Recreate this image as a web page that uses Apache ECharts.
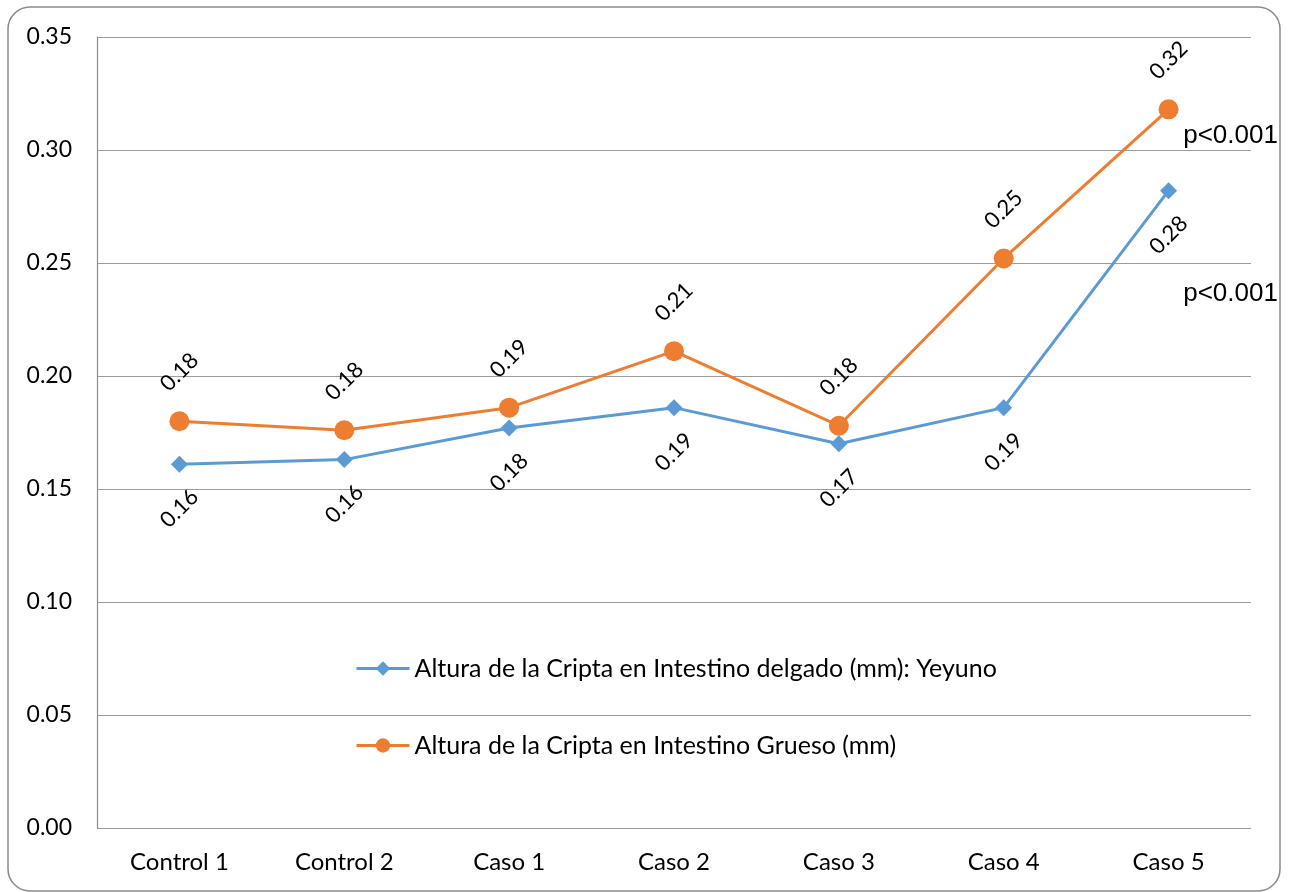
<!DOCTYPE html>
<html>
<head>
<meta charset="utf-8">
<script src="https://cdn.jsdelivr.net/npm/echarts@6/dist/echarts.min.js"></script>
<style>
  html, body { margin: 0; padding: 0; background: #ffffff; }
  #chart { width: 1290px; height: 892px; }
</style>
</head>
<body>
<div id="chart"></div>
<script>
// Crypt height per group
const categories = ['Control 1', 'Control 2', 'Caso 1', 'Caso 2', 'Caso 3', 'Caso 4', 'Caso 5'];
const yeyunoName = 'Altura de la Cripta en Intestino delgado (mm): Yeyuno';
const gruesoName = 'Altura de la Cripta en Intestino Grueso (mm)';
const yeyunoValues = [0.161, 0.163, 0.177, 0.186, 0.170, 0.186, 0.282];
const gruesoValues = [0.180, 0.176, 0.186, 0.211, 0.178, 0.252, 0.318];
const significance = 'p<0.001';

const BLUE = '#5B9BD5';
const ORANGE = '#ED7D31';
const FONT = 'Lato, "Open Sans", sans-serif';

const chart = echarts.init(document.getElementById('chart'));

const pointLabel = (pos, dist) => ({
  show: true,
  position: pos,
  distance: dist,
  rotate: 45,
  align: 'center',
  verticalAlign: 'middle',
  fontFamily: FONT,
  fontSize: 22,
  color: '#000',
  formatter: (p) => p.value.toFixed(2)
});

const pMark = (values, dx, dy) => ({
  symbol: 'circle',
  symbolSize: 1,
  itemStyle: { color: 'rgba(0,0,0,0)' },
  label: {
    show: true,
    formatter: significance,
    offset: [dx, dy],
    fontFamily: '"Liberation Sans", Arial, sans-serif',
    fontSize: 26,
    color: '#000'
  },
  data: [{ coord: [categories.length - 1, values[values.length - 1]] }]
});

chart.setOption({
  backgroundColor: '#ffffff',
  animation: false,
  graphic: [{
    type: 'rect',
    shape: { x: 8, y: 7, width: 1272, height: 884, r: 22 },
    style: { fill: 'none', stroke: '#8a8a8a', lineWidth: 1.5 },
    silent: true,
    z: -1
  }],
  grid: { left: 97, right: 39, top: 37, bottom: 64, containLabel: false },
  legend: {
    orient: 'vertical',
    left: 350,
    top: 651,
    itemWidth: 53,
    itemHeight: 18,
    itemGap: 52,
    lineStyle: { width: 3 },
    textStyle: { fontFamily: FONT, fontSize: 25, color: '#000' },
    data: [yeyunoName, gruesoName]
  },
  xAxis: {
    type: 'category',
    data: categories,
    boundaryGap: true,
    axisLine: { show: false },
    axisTick: { show: false },
    axisLabel: { fontFamily: FONT, fontSize: 24, color: '#000', margin: 22 }
  },
  yAxis: {
    type: 'value',
    min: 0,
    max: 0.35,
    interval: 0.05,
    axisLine: { show: true, lineStyle: { color: '#8c8c8c', width: 1.2 } },
    axisTick: { show: false },
    axisLabel: {
      fontFamily: FONT, fontSize: 23, color: '#000', margin: 25,
      formatter: (v) => v.toFixed(2)
    },
    splitLine: { lineStyle: { color: '#9c9c9c', width: 1.2 } }
  },
  series: [
    {
      name: yeyunoName,
      type: 'line',
      data: yeyunoValues,
      symbol: 'diamond',
      symbolSize: 17,
      lineStyle: { color: BLUE, width: 3 },
      itemStyle: { color: BLUE },
      label: pointLabel('bottom', 36),
      markPoint: pMark(yeyunoValues, 62, 103),
      z: 2
    },
    {
      name: gruesoName,
      type: 'line',
      data: gruesoValues,
      symbol: 'circle',
      symbolSize: 20,
      lineStyle: { color: ORANGE, width: 3 },
      itemStyle: { color: ORANGE },
      label: pointLabel('top', 39),
      markPoint: pMark(gruesoValues, 62, 27),
      z: 3
    }
  ]
});
</script>
</body>
</html>
